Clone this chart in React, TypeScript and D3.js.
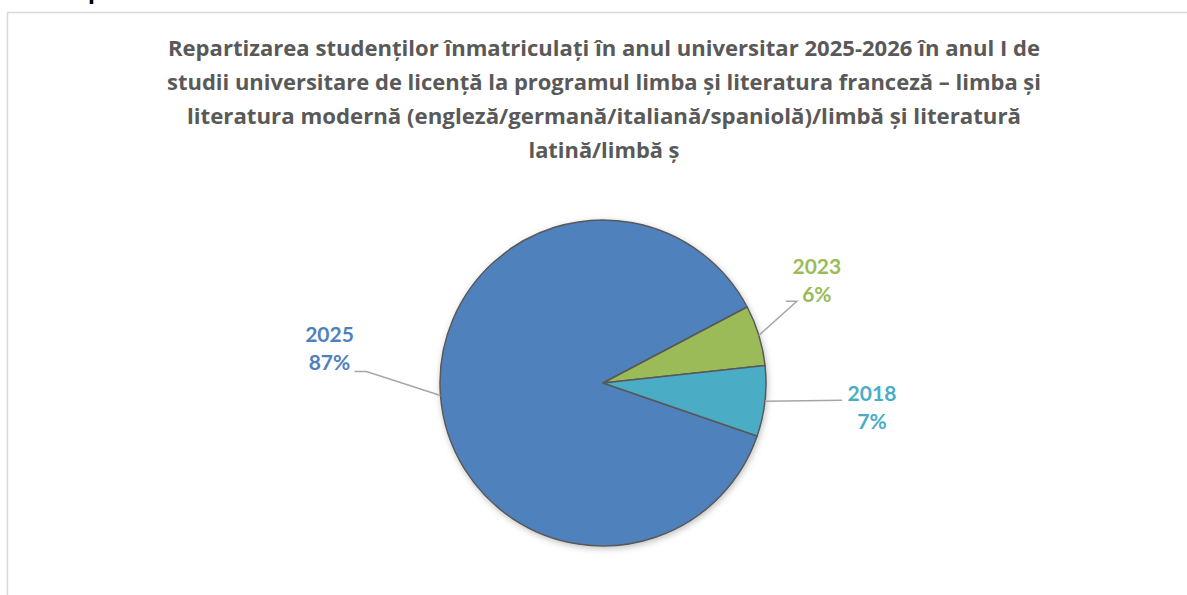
import React from "react";
import { arc, pie, PieArcDatum } from "d3";

// data
const years = ["2025", "2023", "2018"];
const shares = [87, 6, 7];
const sliceColors = ["#4F81BD", "#9BBB59", "#4BACC6"];
const titleLines = [
    "Repartizarea studenților înmatriculați în anul universitar 2025-2026 în anul I de",
    "studii universitare de licență la programul limba și literatura franceză – limba și",
    "literatura modernă (engleză/germană/italiană/spaniolă)/limbă și literatură",
    "latină/limbă ș",
];
const titleWidths = [872, 874, 834, 151];

// where each label sits relative to the point where its leader touches the pie
const labelLayout = [
    { elbow: [-74, -24], end: [-86, -24], text: [-111, -54], anchor: "middle" },
    { elbow: [38, -34], end: [27, -34], text: [58, -61], anchor: "middle" },
    { elbow: [77, -1], end: [77, -1], text: [107, 0], anchor: "middle" },
];

const W = 1187;
const H = 595;
const cx = 603;
const cy = 383;
const R = 163;

const App: React.FC = () => {
    const rows = years.map((y, i) => ({ year: y, value: shares[i], color: sliceColors[i] }));
    const startDeg = 109;
    const pieGen = pie<(typeof rows)[number]>()
        .value(d => d.value)
        .sort(null)
        .startAngle((startDeg * Math.PI) / 180)
        .endAngle(((startDeg + 360) * Math.PI) / 180);
    const slices = pieGen(rows);
    const arcGen = arc<PieArcDatum<(typeof rows)[number]>>().innerRadius(0).outerRadius(R);

    return (
        <svg
            width={W}
            height={H}
            style={{ position: "absolute", left: 0, top: 0, background: "#fff" }}
            fontFamily="Lato, 'Open Sans', sans-serif"
        >
            <defs>
                <filter id="shadow" x="-20%" y="-20%" width="140%" height="140%">
                    <feDropShadow dx="1" dy="2" stdDeviation="3" floodColor="#000" floodOpacity="0.25" />
                </filter>
            </defs>
            {/* cut-off text from above the chart */}
            <text x={88} y={-1} fontSize={28} fontWeight="bold" fill="#000">
                p
            </text>
            <rect x={7.5} y={12.5} width={1190} height={600} fill="none" stroke="#D9D9D9" strokeWidth={1.5} />

            <g fill="#595959" fontWeight="bold" fontSize={21} textAnchor="middle" fontFamily="'Open Sans', Lato, sans-serif">
                {titleLines.map((t, i) => (
                    <text key={i} x={604} y={56 + i * 34} textLength={titleWidths[i]} lengthAdjust="spacingAndGlyphs">
                        {t}
                    </text>
                ))}
            </g>

            <g transform={`translate(${cx},${cy})`}>
                <g filter="url(#shadow)">
                    {slices.map((s, i) => (
                        <path key={i} d={arcGen(s) || ""} fill={s.data.color} stroke="#595959" strokeWidth={1.5} strokeLinejoin="round" />
                    ))}
                </g>
                {slices.map((s, i) => {
                    const mid = (s.startAngle + s.endAngle) / 2;
                    const px = R * Math.sin(mid);
                    const py = -R * Math.cos(mid);
                    const L = labelLayout[i];
                    const tx = px + L.text[0];
                    const ty = py + L.text[1];
                    return (
                        <g key={i}>
                            <polyline
                                points={`${px},${py} ${px + L.elbow[0]},${py + L.elbow[1]} ${px + L.end[0]},${py + L.end[1]}`}
                                fill="none"
                                stroke="#A6A6A6"
                                strokeWidth={1.5}
                            />
                            <text x={tx} y={ty} textAnchor={L.anchor} fontSize={21} fontWeight="bold" fill={s.data.color}>
                                <tspan x={tx}>{s.data.year}</tspan>
                                <tspan x={tx} dy={28}>
                                    {s.data.value}%
                                </tspan>
                            </text>
                        </g>
                    );
                })}
            </g>
        </svg>
    );
};

export default App;
